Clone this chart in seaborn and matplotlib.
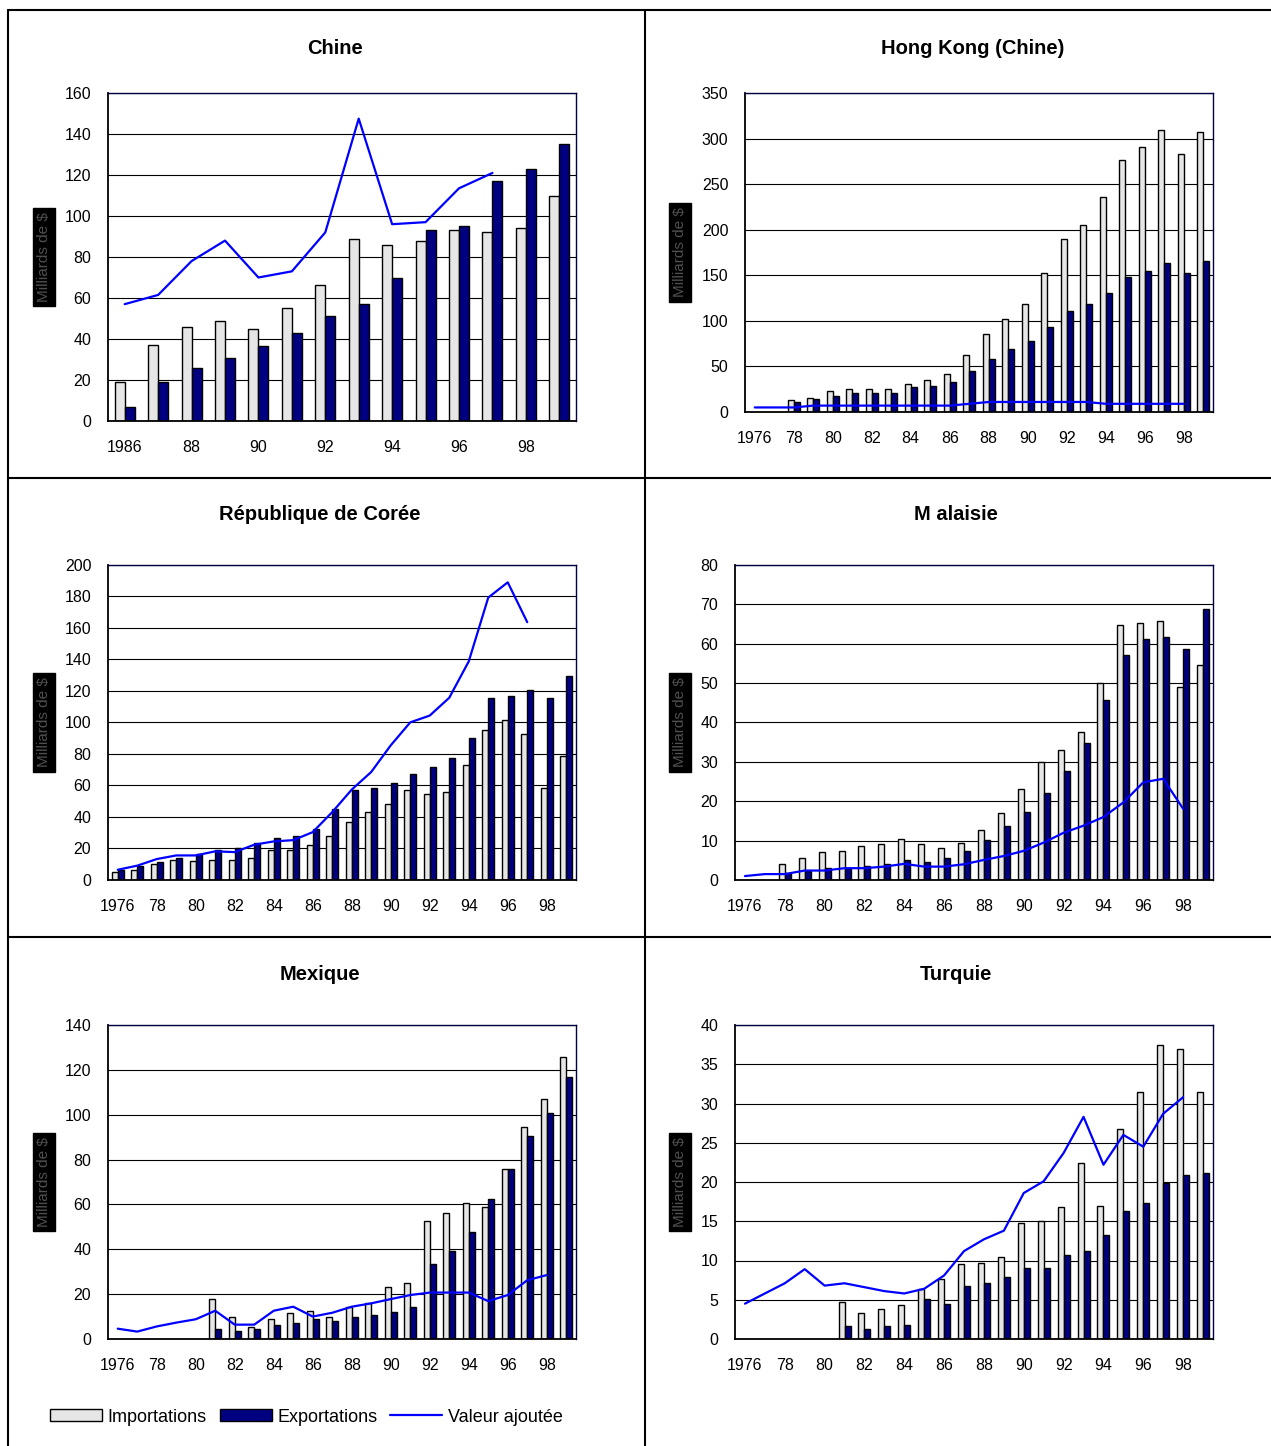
import numpy as np
import pandas as pd
import seaborn as sns
import matplotlib.pyplot as plt
from matplotlib.lines import Line2D
from matplotlib.patches import Patch

W, H = 1271, 1446
NA = np.nan

YEARS_CHINE = list(range(1986, 2000))
YEARS = list(range(1976, 2000))

# Chine 1986-1999
chine_imp = [19, 37, 46, 49, 45, 55, 66.5, 89, 86, 88, 93, 92, 94, 110]
chine_exp = [7, 19, 26, 30.5, 36.5, 43, 51, 57, 70, 93, 95, 117, 123, 135]
chine_va = [57, 61.5, 78, 88, 70, 73, 92, 147.5, 96, 97, 113.5, 121, NA, NA]

# Hong Kong (Chine) 1976-1999
hk_imp = [NA, NA, 13, 15, 23, 25, 25, 25, 31, 35, 42, 62, 86, 102, 119, 152,
          190, 205, 236, 276, 291, 309, 283, 307]
hk_exp = [NA, NA, 11, 14, 18, 21, 21, 21, 27, 29, 33, 45, 58, 69, 78, 93,
          111, 119, 131, 148, 155, 164, 152, 166]
hk_va = [5, 5, 5, 7, 7, 7, 7, 7, 7, 7, 7, 9, 11, 11, 11, 11, 11, 11, 9, 9, 9,
         9, 9, NA]

# République de Corée 1976-1999
kor_imp = [5.3, 6.5, 10.3, 12.9, 12, 12.9, 12.9, 14.1, 19, 19, 22, 27.9, 37,
           43.3, 48.2, 57.2, 54.7, 56, 72.7, 95.2, 101.8, 92.9, 58.3, 78.6]
kor_exp = [6.5, 9.1, 11.6, 14.1, 16.7, 19.2, 20.5, 23.2, 26.8, 27.9, 32.1,
           44.8, 57.4, 58.3, 61.5, 67.4, 71.6, 77.5, 90.2, 115.7, 117, 120.6,
           115.7, 129.5]
kor_va = [6.5, 9.1, 13.3, 15.6, 15.6, 18.2, 17.7, 22.4, 24.5, 25.3, 30.4, 43.1,
          57.4, 68.6, 85.5, 100.1, 104.4, 115.7, 138.8, 179.3, 189, 163.7, NA, NA]

# Malaisie 1976-1999
mal_imp = [NA, NA, 4.05, 5.5, 7.0, 7.4, 8.6, 9.1, 10.5, 9.1, 8.2, 9.5, 12.7,
           17.1, 23.1, 29.9, 32.9, 37.5, 50, 64.8, 65.3, 65.8, 49.1, 54.6]
mal_exp = [NA, NA, 1.9, 2.4, 3.0, 3.0, 3.5, 4.1, 5.0, 4.6, 5.5, 7.4, 10.1,
           13.7, 17.2, 22.2, 27.8, 34.9, 45.6, 57.2, 61.3, 61.8, 58.6, 68.9]
mal_va = [1.0, 1.5, 1.5, 2.4, 2.4, 3.0, 3.0, 3.4, 4.1, 3.4, 3.4, 4.0, 5.1, 6.1,
          7.4, 9.5, 12.0, 13.8, 16.0, 19.7, 24.8, 25.7, 18.1, NA]

# Mexique 1976-1999
mex_imp = [NA, NA, NA, NA, NA, 17.7, 9.8, 5.5, 8.9, 11.7, 12.6, 9.8, 14.4,
           16.2, 23.2, 24.8, 52.6, 56.3, 60.5, 58.7, 75.9, 94.5, 107, 125.6]
mex_exp = [NA, NA, NA, NA, NA, 4.6, 3.4, 4.6, 6.4, 7.3, 9.1, 8.2, 10, 10.8,
           11.9, 14.4, 33.3, 39.4, 47.5, 62.6, 75.9, 90.3, 100.9, 116.8]
mex_va = [4.6, 3.3, 5.6, 7.3, 8.8, 12.6, 6.4, 6.4, 12.6, 14.4, 10, 11.7, 14.4,
          15.9, 17.8, 19.6, 20.7, 20.7, 20.7, 16.9, 19.6, 26.2, 28.5, NA]

# Turquie 1976-1999
tur_imp = [NA, NA, NA, NA, NA, 4.76, 3.35, 3.8, 4.3, 6.4, 7.7, 9.5, 9.7, 10.4,
           14.8, 15, 16.8, 22.4, 17, 26.8, 31.5, 37.5, 36.9, 31.5]
tur_exp = [NA, NA, NA, NA, NA, 1.6, 1.3, 1.6, 1.8, 5.05, 4.5, 6.8, 7.1, 7.9,
           9.1, 9.1, 10.7, 11.2, 13.2, 16.3, 17.3, 19.9, 20.9, 21.1]
tur_va = [4.5, 5.8, 7.1, 8.9, 6.8, 7.1, 6.6, 6.1, 5.8, 6.4, 8.1, 11.2, 12.7,
          13.8, 18.6, 20.1, 23.7, 28.3, 22.2, 26.0, 24.5, 28.7, 30.8, NA]

SERIES = ['Importations', 'Exportations']
PALETTE = {'Importations': '#e6e6e6', 'Exportations': '#000080'}
LINE_COLOR = '#0000ff'

# (title, title x, title y, axes box in px: left, top, right, bottom, data..., ymax, ystep)
PANELS = [
    ('Chine', 335, 48, (108, 93, 576, 421), YEARS_CHINE, chine_imp, chine_exp, chine_va, 160, 20),
    ('Hong Kong (Chine)', 973, 48, (745, 93, 1213, 412), YEARS, hk_imp, hk_exp, hk_va, 350, 50),
    ('République de Corée', 320, 514, (108, 565, 576, 880), YEARS, kor_imp, kor_exp, kor_va, 200, 20),
    ('M alaisie', 956, 514, (735, 565, 1213, 880), YEARS, mal_imp, mal_exp, mal_va, 80, 10),
    ('Mexique', 320, 975, (108, 1025, 576, 1339), YEARS, mex_imp, mex_exp, mex_va, 140, 20),
    ('Turquie', 956, 975, (735, 1025, 1213, 1339), YEARS, tur_imp, tur_exp, tur_va, 40, 5),
]

sns.set_style('white')
plt.rcParams['font.family'] = ['Liberation Sans', 'DejaVu Sans']
plt.rcParams.update({'text.color': 'black', 'xtick.color': 'black',
                     'ytick.color': 'black', 'axes.labelcolor': 'black'})

fig = plt.figure(figsize=(W / 100, H / 100), dpi=100)


def draw_panel(ax, years, imp, exp, va, ymax, ystep):
    labels = [str(y) for y in years]
    df = pd.DataFrame({'annee': labels, 'Importations': imp, 'Exportations': exp})
    long = df.melt(id_vars='annee', var_name='serie', value_name='valeur').dropna()
    sns.barplot(data=long, x='annee', y='valeur', hue='serie', order=labels,
                hue_order=SERIES, palette=PALETTE, width=0.6, gap=0,
                saturation=1, edgecolor='black', linewidth=1, errorbar=None,
                legend=False, ax=ax, zorder=2)
    idx = [i for i, v in enumerate(va) if not np.isnan(v)]
    sns.lineplot(x=idx, y=[va[i] for i in idx], color=LINE_COLOR, lw=1.6,
                 ax=ax, zorder=3)

    n = len(years)
    ax.set_xlim(-0.5, n - 0.5)
    ax.set_ylim(0, ymax)
    ax.set_yticks(np.arange(0, ymax + ystep, ystep))
    ticks = list(range(0, n - 1, 2))
    ax.set_xticks(ticks)
    ax.set_xticklabels([labels[i] if i == 0 else labels[i][2:] for i in ticks])
    ax.set_xticks(np.arange(0.5, n - 0.5, 1), minor=True)
    ax.set_xlabel('')
    ax.set_ylabel('')
    ax.tick_params(axis='x', which='major', length=0, pad=14, labelsize=11.5)
    ax.tick_params(axis='x', which='minor', direction='in', length=4,
                   width=0.8, color='#333333')
    ax.tick_params(axis='y', direction='in', length=4, pad=12, labelsize=11.5)
    ax.yaxis.grid(True, color='black', lw=0.8)
    ax.set_axisbelow(True)
    for side in ['left', 'bottom']:
        ax.spines[side].set_color('black')
        ax.spines[side].set_linewidth(1.3)
    for side in ['top', 'right']:
        ax.spines[side].set_color('#000040')
        ax.spines[side].set_linewidth(1)


for title, tx, ty, box, years, imp, exp, va, ymax, ystep in PANELS:
    l, t, r, b = box
    ax = fig.add_axes([l / W, 1 - b / H, (r - l) / W, (b - t) / H])
    draw_panel(ax, years, imp, exp, va, ymax, ystep)
    fig.text(tx / W, 1 - ty / H, title, ha='center', va='center',
             fontsize=14.5, fontweight='bold')
    lab_x = 44 if l < 300 else 680
    fig.text(lab_x / W, 1 - (t + b) / 2 / H, 'Milliards de $', rotation=90,
             ha='center', va='center', fontsize=11, color='#505050',
             bbox=dict(facecolor='black', edgecolor='black', pad=3))

# table frame
frame = dict(color='black', lw=1.5, transform=fig.transFigure)
fig.add_artist(Line2D([8 / W, 8 / W], [0, 1 - 10 / H], **frame))
fig.add_artist(Line2D([645 / W, 645 / W], [0, 1 - 10 / H], **frame))
for y in [10, 478, 937]:
    fig.add_artist(Line2D([8 / W, 1], [1 - y / H, 1 - y / H], **frame))

handles = [Patch(facecolor=PALETTE['Importations'], edgecolor='black', lw=1),
           Patch(facecolor=PALETTE['Exportations'], edgecolor='black', lw=1),
           Line2D([], [], color=LINE_COLOR, lw=1.6)]
fig.legend(handles, SERIES + ['Valeur ajoutée'], loc='center left',
           bbox_to_anchor=(50 / W, 1 - 1417 / H), ncol=3, frameon=False,
           borderpad=0, borderaxespad=0, fontsize=13, handlelength=2.9,
           handleheight=0.6, handletextpad=0.3, columnspacing=0.7)

fig.savefig('out.png', dpi=100)
